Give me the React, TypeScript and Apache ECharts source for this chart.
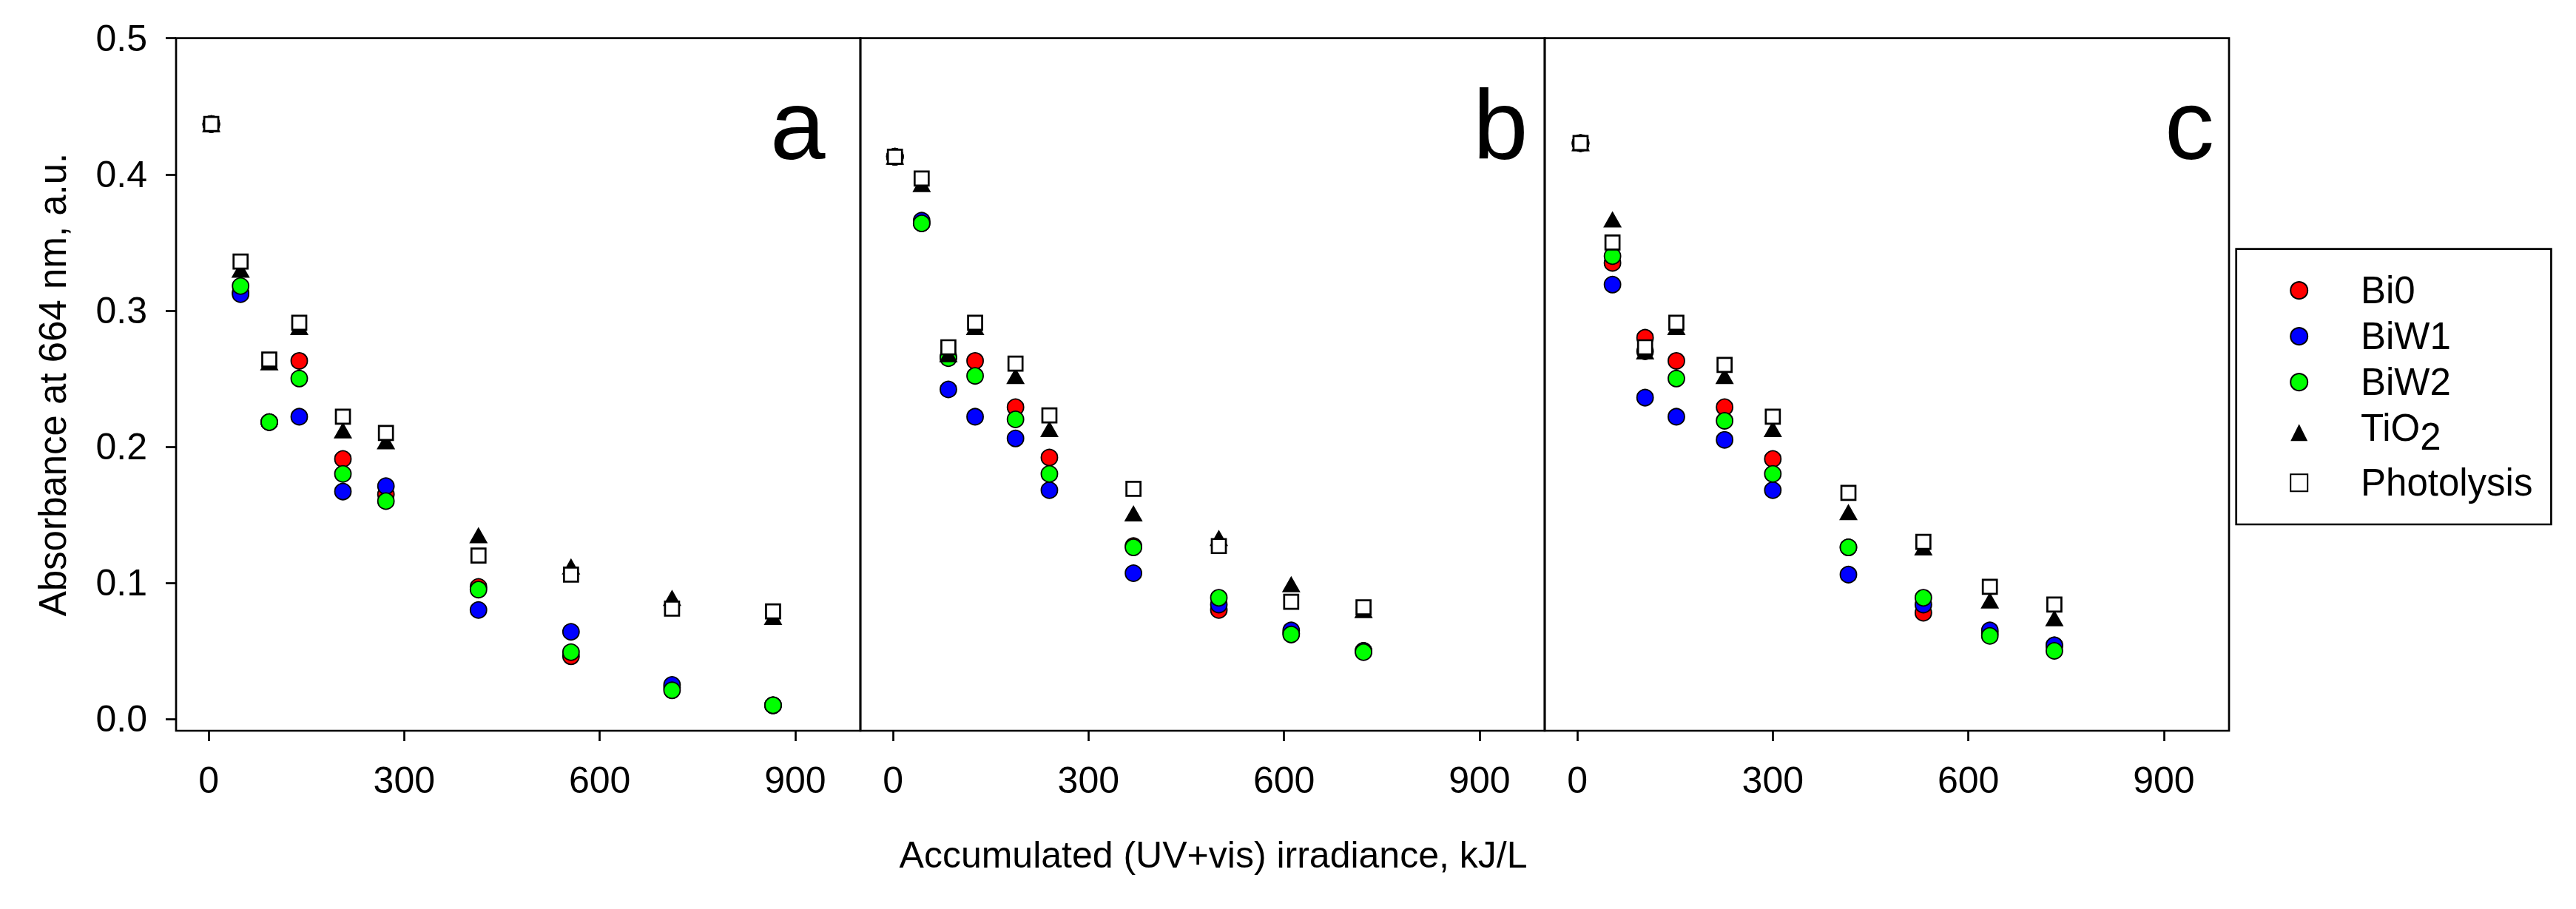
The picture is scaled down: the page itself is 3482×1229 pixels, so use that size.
import React, { useEffect, useRef } from "react";
import * as echarts from "echarts";

const FONT = "'Liberation Sans', Arial, sans-serif";

const seriesNames = ["Bi0", "BiW1", "BiW2", "TiO2", "Photolysis"];
const panelLetters = ["a", "b", "c"];
const xTicks = [0, 300, 600, 900];
const yTicks = [0, 0.1, 0.2, 0.3, 0.4, 0.5];

// Panel a
const xA = [4, 49, 93, 139, 206, 272, 414, 556, 711, 866];
const bi0A = [0.437, 0.313, 0.218, 0.263, 0.191, 0.165, 0.097, 0.046, 0.023, 0.010];
const biw1A = [0.437, 0.312, 0.218, 0.222, 0.167, 0.171, 0.080, 0.064, 0.025, 0.010];
const biw2A = [0.437, 0.318, 0.218, 0.250, 0.180, 0.160, 0.095, 0.049, 0.021, 0.010];
const tio2A = [0.437, 0.330, 0.262, 0.288, 0.212, 0.204, 0.135, 0.112, 0.089, 0.075];
const photoA = [0.437, 0.336, 0.264, 0.291, 0.222, 0.210, 0.120, 0.106, 0.081, 0.079];

// Panel b
const xB = [3, 44, 85, 126, 188, 240, 369, 500, 611, 722];
const bi0B = [0.413, 0.364, 0.266, 0.263, 0.229, 0.192, 0.127, 0.080, 0.063, 0.050];
const biw1B = [0.413, 0.366, 0.242, 0.222, 0.206, 0.168, 0.107, 0.084, 0.065, 0.050];
const biw2B = [0.413, 0.364, 0.265, 0.252, 0.220, 0.180, 0.126, 0.089, 0.062, 0.049];
const tio2B = [0.413, 0.393, 0.268, 0.288, 0.252, 0.213, 0.151, 0.133, 0.099, 0.080];
const photoB = [0.413, 0.397, 0.273, 0.291, 0.261, 0.223, 0.169, 0.127, 0.086, 0.082];

// Panel c
const xC = [5, 54, 104, 152, 226, 300, 416, 531, 633, 732];
const bi0C = [0.423, 0.335, 0.280, 0.263, 0.229, 0.191, 0.126, 0.078, 0.063, 0.054];
const biw1C = [0.423, 0.319, 0.236, 0.222, 0.205, 0.168, 0.106, 0.084, 0.065, 0.054];
const biw2C = [0.423, 0.340, 0.270, 0.250, 0.219, 0.180, 0.126, 0.089, 0.061, 0.050];
const tio2C = [0.423, 0.367, 0.270, 0.288, 0.252, 0.213, 0.152, 0.126, 0.087, 0.074];
const photoC = [0.423, 0.350, 0.273, 0.291, 0.260, 0.222, 0.166, 0.130, 0.097, 0.084];

const panelX = [xA, xB, xC];
const panelY = [
  [bi0A, biw1A, biw2A, tio2A, photoA],
  [bi0B, biw1B, biw2B, tio2B, photoB],
  [bi0C, biw1C, biw2C, tio2C, photoC],
];

const symbolStyles: any[] = [
  { symbol: "circle", symbolSize: 22, itemStyle: { color: "#ff0000", borderColor: "#000", borderWidth: 1.8, opacity: 1 } },
  { symbol: "circle", symbolSize: 22, itemStyle: { color: "#0000ff", borderColor: "#000", borderWidth: 1.8, opacity: 1 } },
  { symbol: "circle", symbolSize: 22, itemStyle: { color: "#00ff00", borderColor: "#000", borderWidth: 1.8, opacity: 1 } },
  { symbol: "triangle", symbolSize: [25, 22], itemStyle: { color: "#000", borderColor: "#000", borderWidth: 0, opacity: 1 } },
  { symbol: "rect", symbolSize: 19, itemStyle: { color: "#fff", borderColor: "#000", borderWidth: 2.7, opacity: 1 } },
];

export default function App() {
  const ref = useRef<HTMLDivElement>(null);
  useEffect(() => {
    const chart = echarts.init(ref.current!, null, { renderer: "svg" });
    const gridLefts = [238, 1163, 2088];
    const gridW = 925;
    const gridTop = 51.7;
    const gridH = 936.3;

    const grid = gridLefts.map((l) => ({
      left: l,
      top: gridTop,
      width: gridW,
      height: gridH,
      show: true,
      borderColor: "#000",
      borderWidth: 2.7,
      backgroundColor: "transparent",
      containLabel: false,
    }));

    const xAxis = gridLefts.map((_, i) => ({
      type: "value",
      gridIndex: i,
      min: -50,
      max: 1000,
      axisLine: { show: false, onZero: false },
      axisTick: {
        show: true,
        customValues: xTicks,
        length: 14,
        lineStyle: { color: "#000", width: 2.7 },
      },
      axisLabel: {
        show: true,
        customValues: xTicks,
        fontSize: 50,
        lineHeight: 50,
        fontFamily: FONT,
        color: "#000",
        margin: 42,
        showMinLabel: true,
        showMaxLabel: true,
      },
      splitLine: { show: false },
    }));

    const yAxis = gridLefts.map((_, i) => ({
      type: "value",
      gridIndex: i,
      min: -0.0087,
      max: 0.5,
      axisLine: { show: false, onZero: false },
      axisTick: {
        show: i === 0,
        customValues: yTicks,
        length: 14,
        lineStyle: { color: "#000", width: 2.7 },
      },
      axisLabel: {
        show: i === 0,
        customValues: yTicks,
        fontSize: 50,
        lineHeight: 50,
        fontFamily: FONT,
        color: "#000",
        margin: 39,
        formatter: (v: number) => v.toFixed(1),
        showMinLabel: true,
        showMaxLabel: true,
      },
      splitLine: { show: false },
    }));

    const series: any[] = [];
    panelY.forEach((sets, p) => {
      sets.forEach((vals, s) => {
        series.push({
          type: "scatter",
          name: seriesNames[s],
          xAxisIndex: p,
          yAxisIndex: p,
          data: vals.map((v, k) => [panelX[p][k], v]),
          symbol: symbolStyles[s].symbol,
          symbolSize: symbolStyles[s].symbolSize,
          itemStyle: symbolStyles[s].itemStyle,
          z: 2 + s,
          clip: false,
          emphasis: { disabled: true },
        });
      });
    });

    const letterX = [1041, 1991, 2926];
    const graphic: any[] = [
      {
        type: "text",
        x: 71,
        y: 520,
        rotation: Math.PI / 2,
        style: {
          text: "Absorbance at 664 nm, a.u.",
          fontSize: 51,
          fontFamily: FONT,
          fill: "#000",
          align: "center",
          verticalAlign: "middle",
        },
      },
      {
        type: "text",
        x: 1640,
        y: 1156,
        style: {
          text: "Accumulated (UV+vis) irradiance, kJ/L",
          fontSize: 50,
          fontFamily: FONT,
          fill: "#000",
          align: "center",
          verticalAlign: "middle",
        },
      },
      ...panelLetters.map((t, i) => ({
        type: "text",
        x: letterX[i],
        y: 168.6,
        style: {
          text: t,
          fontSize: 134,
          fontFamily: FONT,
          fill: "#000",
          align: "left",
          verticalAlign: "middle",
        },
      })),
    ];

    const option: any = {
      animation: false,
      backgroundColor: "#fff",
      grid,
      xAxis,
      yAxis,
      series,
      graphic,
      legend: {
        orient: "vertical",
        left: 3022.7,
        top: 336.7,
        data: seriesNames,
        itemWidth: 23,
        itemHeight: 23,
        itemGap: 11,
        padding: [30.5, 25, 30.8, 72.5],
        borderColor: "#000",
        borderWidth: 2.7,
        selectedMode: false,
        formatter: (name: string) => (name === "TiO2" ? "{n|TiO}{sub|2}" : name),
        textStyle: {
          fontSize: 51,
          lineHeight: 51,
          fontFamily: FONT,
          color: "#000",
          padding: [0, 0, 0, 66.8],
          rich: {
            n: { fontSize: 51, lineHeight: 51, fontFamily: FONT, color: "#000", verticalAlign: "top" },
            sub: { fontSize: 51, lineHeight: 63, fontFamily: FONT, color: "#000", verticalAlign: "bottom" },
          },
        },
      },
    };
    chart.setOption(option);
    return () => chart.dispose();
  }, []);
  return (
    <div
      ref={ref}
      style={{ position: "absolute", left: 0, top: 0, width: 3482, height: 1229, background: "#fff" }}
    />
  );
}
